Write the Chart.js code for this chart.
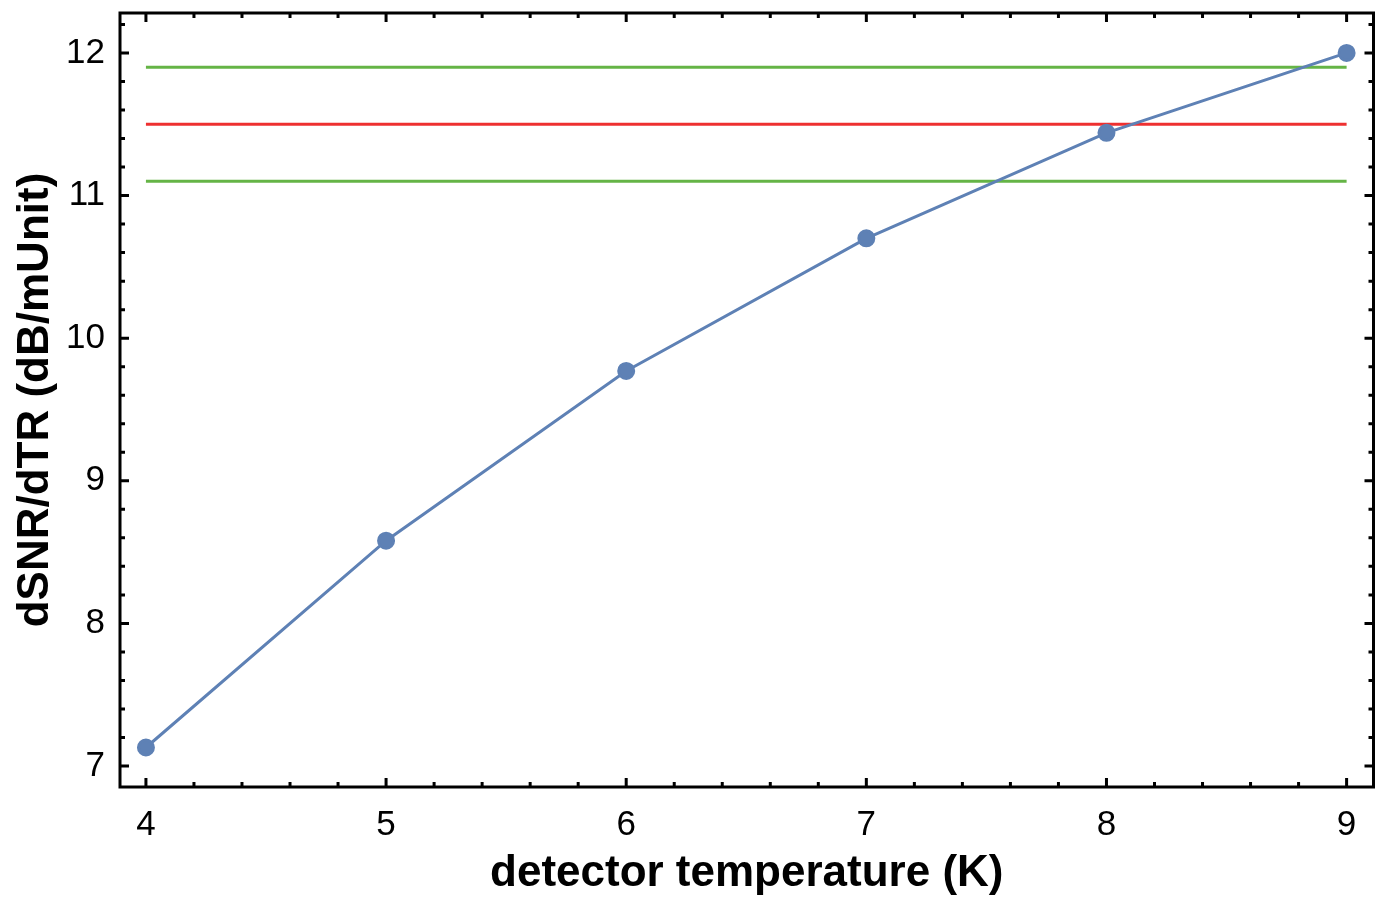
<!DOCTYPE html>
<html>
<head>
<meta charset="utf-8">
<script src="https://cdn.jsdelivr.net/npm/chart.js@4.4.0/dist/chart.umd.min.js"></script>
<style>
  html, body { margin: 0; padding: 0; background: #fff; }
  #wrap { width: 1384px; height: 904px; }
</style>
</head>
<body>
<div id="wrap"><canvas id="snrChart"></canvas></div>
<script>
// detector temperature (K) and measured slope
var temps = [4, 5, 6, 7, 8, 9];
var slopes = [7.13, 8.58, 9.77, 10.70, 11.44, 12.00];
// reference levels
var levelSpan = [4, 9];
var upperLevel = 11.9;
var targetLevel = 11.5;
var lowerLevel = 11.1;

var xMajor = [4, 5, 6, 7, 8, 9];
var yMajor = [7, 8, 9, 10, 11, 12];

function pts(xs, ys) {
  return xs.map(function (x, i) { return { x: x, y: ys[i] }; });
}

// frame with inward ticks on all four sides, like a Mathematica plot
var framePlugin = {
  id: 'frame',
  afterDatasetsDraw: function (chart) {
    var ctx = chart.ctx, a = chart.chartArea;
    var xs = chart.scales.x, ys = chart.scales.y;
    ctx.save();
    ctx.strokeStyle = '#000';
    ctx.lineWidth = 3;
    ctx.lineCap = 'butt';
    var i, v, p, len;
    for (i = 0; i <= 60; i++) {
      v = Math.round((3.8 + i * 0.2) * 10) / 10;
      if (v < xs.min || v > xs.max) continue;
      p = xs.getPixelForValue(v);
      len = Math.abs(v - Math.round(v)) < 1e-6 ? 9 : 5;
      ctx.beginPath();
      ctx.moveTo(p, a.bottom); ctx.lineTo(p, a.bottom - len);
      ctx.moveTo(p, a.top); ctx.lineTo(p, a.top + len);
      ctx.stroke();
    }
    for (i = 0; i <= 60; i++) {
      v = Math.round((6.8 + i * 0.2) * 10) / 10;
      if (v < ys.min || v > ys.max) continue;
      p = ys.getPixelForValue(v);
      len = Math.abs(v - Math.round(v)) < 1e-6 ? 9 : 5;
      ctx.beginPath();
      ctx.moveTo(a.left, p); ctx.lineTo(a.left + len, p);
      ctx.moveTo(a.right, p); ctx.lineTo(a.right - len, p);
      ctx.stroke();
    }
    ctx.strokeRect(a.left, a.top, a.right - a.left, a.bottom - a.top);
    ctx.restore();
  }
};

var tickFont = { family: 'Liberation Sans, Arial, sans-serif', size: 35 };
var titleFont = { family: 'Liberation Sans, Arial, sans-serif', size: 44, weight: 'bold' };

new Chart('snrChart', {
  type: 'scatter',
  data: {
    datasets: [
      {
        label: 'dSNR/dTR',
        data: pts(temps, slopes),
        showLine: true,
        borderColor: '#5e81b5',
        backgroundColor: '#5e81b5',
        borderWidth: 3,
        pointRadius: 7.5,
        pointHoverRadius: 7.5
      },
      {
        label: 'upper',
        data: pts(levelSpan, [upperLevel, upperLevel]),
        showLine: true,
        borderColor: '#65b446',
        borderWidth: 3,
        pointRadius: 0
      },
      {
        label: 'target',
        data: pts(levelSpan, [targetLevel, targetLevel]),
        showLine: true,
        borderColor: '#ee3030',
        borderWidth: 3,
        pointRadius: 0
      },
      {
        label: 'lower',
        data: pts(levelSpan, [lowerLevel, lowerLevel]),
        showLine: true,
        borderColor: '#65b446',
        borderWidth: 3,
        pointRadius: 0
      }
    ]
  },
  options: {
    responsive: true,
    maintainAspectRatio: false,
    animation: false,
    layout: { padding: { left: 0, top: 13, right: 7, bottom: 0 } },
    plugins: {
      legend: { display: false },
      tooltip: { enabled: false }
    },
    scales: {
      x: {
        type: 'linear',
        min: 3.892,
        max: 9.112,
        afterFit: function (s) { s.height = 117; s.paddingLeft = 0; s.paddingRight = 0; },
        afterBuildTicks: function (s) { s.ticks = xMajor.map(function (v) { return { value: v }; }); },
        grid: { display: false, drawTicks: false },
        border: { display: false },
        ticks: {
          includeBounds: false,
          padding: 17,
          color: '#000',
          font: tickFont
        },
        title: {
          display: true,
          text: 'detector temperature (K)',
          color: '#000',
          padding: { top: 1 },
          font: titleFont
        }
      },
      y: {
        type: 'linear',
        min: 6.853,
        max: 12.28,
        afterFit: function (s) { s.width = 120; s.paddingTop = 0; s.paddingBottom = 0; },
        afterBuildTicks: function (s) { s.ticks = yMajor.map(function (v) { return { value: v }; }); },
        grid: { display: false, drawTicks: false },
        border: { display: false },
        ticks: {
          includeBounds: false,
          padding: 15,
          color: '#000',
          font: tickFont
        },
        title: {
          display: true,
          text: 'dSNR/dTR (dB/mUnit)',
          color: '#000',
          padding: { top: 9 },
          font: titleFont
        }
      }
    }
  },
  plugins: [framePlugin]
});
</script>
</body>
</html>
